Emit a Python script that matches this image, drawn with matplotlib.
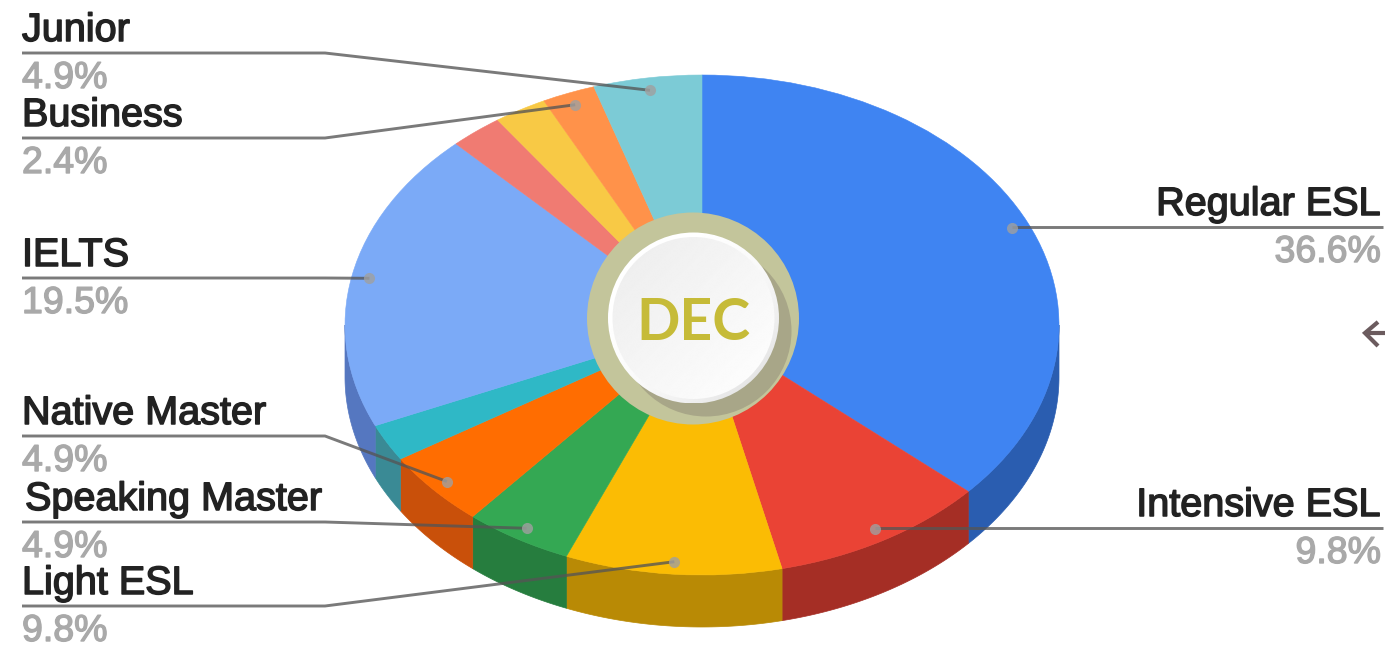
import numpy as np
import matplotlib
matplotlib.use("Agg")
import matplotlib.pyplot as plt
from matplotlib.patches import Circle
import matplotlib.patheffects as pe

# ---- data ----
slice_names = ["Regular ESL", "Intensive ESL", "Light ESL", "Speaking Master", "Native Master",
               "", "IELTS", "", "", "Business", "Junior"]
shares = [36.6, 9.8, 9.8, 4.9, 4.9, 2.4, 19.5, 2.4, 2.4, 2.4, 4.9]
top_colors = ["#3f84f2", "#ea4335", "#fbbc04", "#34a853", "#ff6d01", "#2fb8c6",
              "#7baaf7", "#f07b72", "#f8c945", "#ff924a", "#7ccbd6"]
side_colors = ["#2a5db0", "#a52e25", "#b98a05", "#267d3e", "#c9500a", "#3a8a95",
               "#5577c0", "#a8554f", "#b0923a", "#b36b36", "#58929a"]
center_label = "DEC"

# ---- layout (pixels) ----
W, H = 1385, 649
cx, cy, rx, ry, depth = 702, 325, 357, 250, 52
left_layout = {"Junior": (53, 22), "Business": (138, 22), "IELTS": (278, 22),
               "Native Master": (436, 22), "Speaking Master": (522, 25), "Light ESL": (606, 22)}
right_layout = {"Regular ESL": 227, "Intensive ESL": 528}
FONT = "Liberation Sans"

fig = plt.figure(figsize=(W / 100, H / 100), dpi=100, facecolor="white")

# pie layer: unit circle mapped to an ellipse
pie_ax = fig.add_axes([0, 0, 1, 1])
edges = 360 * np.cumsum([0] + shares) / sum(shares)
d = depth / ry
for a, b, c in zip(edges[:-1], edges[1:], side_colors):
    lo, hi = max(a, 90), min(b, 270)
    if lo >= hi:
        continue
    th = np.radians(np.linspace(lo, hi, 60))
    xs = np.r_[np.sin(th), np.sin(th)[::-1]]
    ys = np.r_[np.cos(th), np.cos(th)[::-1] - d]
    pie_ax.fill(xs, ys, color=c, lw=0.5, zorder=1)
wedges, _ = pie_ax.pie(shares, colors=top_colors, startangle=90, counterclock=False, radius=1)
for w, c in zip(wedges, top_colors):
    w.set_edgecolor(c)
    w.set_linewidth(0.4)
    w.set_zorder(2)
pie_ax.set_aspect("auto")
pie_ax.set_xlim(-cx / rx, (W - cx) / rx)
pie_ax.set_ylim((cy - H) / ry, cy / ry)
pie_ax.axis("off")

# overlay in pixel coordinates
ov = fig.add_axes([0, 0, 1, 1])
ov.patch.set_alpha(0)
ov.axis("off")


def anchor(i):
    mid = np.radians((edges[i] + edges[i + 1]) / 2)
    return cx + rx * 0.95 * np.sin(mid), cy - ry * 0.95 * np.cos(mid)


stroke = [pe.withStroke(linewidth=1.1, foreground="#222222")]
stroke2 = [pe.withStroke(linewidth=1.0, foreground="#a9a9a9")]
line_kw = dict(color="#555555", lw=2.1, alpha=0.78, solid_capstyle="butt", zorder=3)

for i, name in enumerate(slice_names):
    if not name:
        continue
    ax_, ay_ = anchor(i)
    pct = f"{shares[i]:.1f}%"
    if name in left_layout:
        ly, tx = left_layout[name]
        ov.plot([22, 325, ax_], [ly, ly, ay_], **line_kw)
        ha = "left"
    else:
        ly = right_layout[name]
        tx = 1381
        ov.plot([1383, ax_], [ly, ly], **line_kw)
        ha = "right"
    ov.plot([ax_], [ay_], "o", ms=8, color="#a0a0a0", alpha=0.8, mew=0, zorder=3)
    ov.text(tx, ly - 12, name, ha=ha, va="baseline", fontsize=28.5, family=FONT,
            color="#222222", path_effects=stroke)
    ov.text(22 if ha == "left" else tx, ly + 35, pct, ha=ha, va="baseline", fontsize=27, family=FONT,
            color="#a9a9a9", path_effects=stroke2)

# centre badge
outer = Circle((693, 318.5), 106, fc="#c3c59b", ec="none", zorder=4)
ov.add_patch(outer)
shadow = Circle((706, 331), 85.5, fc="#a8a688", ec="none", zorder=5)
ov.add_patch(shadow)
shadow.set_clip_path(outer)

g = np.linspace(0, 1, 256)
gx, gy = np.meshgrid(g, g)
ramp = (gx + gy) / 2
rim = ov.imshow(1 - 0.16 * ramp ** 3, extent=(608, 779, 403.5, 232.5), cmap="gray", vmin=0, vmax=1,
                zorder=6, aspect="auto")
rim.set_clip_path(Circle((693.5, 318), 85.5, transform=ov.transData))
face = ov.imshow(0.925 + 0.075 * ramp, extent=(612, 775, 400, 237), cmap="gray", vmin=0, vmax=1,
                 zorder=7, aspect="auto")
face.set_clip_path(Circle((693.5, 318), 81, transform=ov.transData))

ov.text(693, 318, center_label, ha="center", va="center_baseline", fontsize=41, family="Lato",
        weight="bold", color="#c6bb38", zorder=8)

# cut-off arrow at the right edge
arrow_kw = dict(color="#6b5b5e", lw=3.0, solid_capstyle="butt", solid_joinstyle="miter", zorder=3)
ov.plot([1365, 1385], [333, 333], **arrow_kw)
ov.plot([1378, 1365, 1378], [322, 333, 346], **arrow_kw)

ov.set_xlim(0, W)
ov.set_ylim(H, 0)

fig.savefig("out.png", dpi=100, facecolor="white")
